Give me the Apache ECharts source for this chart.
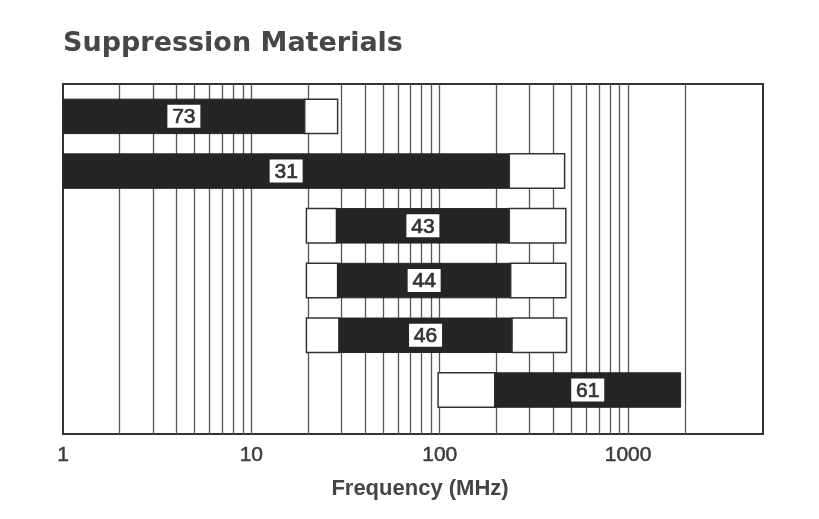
<!DOCTYPE html>
<html>
<head>
<meta charset="utf-8">
<script src="https://cdn.jsdelivr.net/npm/echarts@6/dist/echarts.min.js"></script>
<style>
html,body{margin:0;padding:0;background:#fff;}
#chart{width:819px;height:519px;}
</style>
</head>
<body>
<div id="chart"></div>
<script>
// ---- data ----
const materials = ['73', '31', '43', '44', '46', '61'];
// frequency ranges in MHz (null = no such segment)
const whiteLowStart = [null, null, 19.6, 19.6, 19.6, 98];
const blackStart    = [1, 1, 28.3, 28.7, 29.2, 196];
const blackEnd      = [19.2, 234, 234, 238, 242, 1900];
const whiteHighEnd  = [28.7, 460, 467, 467, 471, null];
const tickLabels = ['1', '10', '100', '1000'];
const gridLineValues = [2,3,4,5,6,7,8,9,10,20,30,40,50,60,70,80,90,100,
                        200,300,400,500,600,700,800,900,1000,2000];
const axisMin = 1;
const axisMax = 5200;

// ---- build segments ----
const segments = [];
materials.forEach(function (m, i) {
  if (whiteLowStart[i] != null) segments.push([whiteLowStart[i], blackStart[i], i, 0]);
  segments.push([blackStart[i], blackEnd[i], i, 1]);
  if (whiteHighEnd[i] != null) segments.push([blackEnd[i], whiteHighEnd[i], i, 0]);
});
const labelData = materials.map(function (m, i) { return [blackStart[i], blackEnd[i], i]; });

const chart = echarts.init(document.getElementById('chart'), null, {renderer: 'canvas'});

const gridLeft = 63, gridRight = 56;

const option = {
  backgroundColor: '#fff',
  animation: false,
  title: {
    text: 'Suppression Materials',
    left: 58,
    top: 25,
    textStyle: {fontFamily: 'DejaVu Sans', fontWeight: 'bold', fontSize: 27, color: '#474747'}
  },
  grid: [
    {left: gridLeft, right: gridRight, top: 84, height: 350, show: true,
     borderColor: '#333', borderWidth: 2, backgroundColor: '#fff'},
    {left: gridLeft, right: gridRight, top: 89, height: 328.4, show: false}
  ],
  xAxis: [
    {
      type: 'log', logBase: 10, min: axisMin, max: axisMax, gridIndex: 0,
      axisLine: {show: false}, axisTick: {show: false}, splitLine: {show: false},
      axisLabel: {
        show: true, margin: 11, showMaxLabel: false,
        fontFamily: 'Liberation Sans', fontSize: 21, color: '#3c3c3c',
        textBorderColor: '#3c3c3c', textBorderWidth: 0.5,
        formatter: function (v) {
          const s = String(Math.round(v));
          return tickLabels.indexOf(s) >= 0 ? s : '';
        }
      },
      name: 'Frequency (MHz)', nameLocation: 'middle', nameGap: 44,
      nameTextStyle: {fontFamily: 'Liberation Sans', fontWeight: 'bold', fontSize: 22,
                      color: '#444', padding: [0, 0, 0, 14]}
    },
    {type: 'log', logBase: 10, min: axisMin, max: axisMax, gridIndex: 1, show: false}
  ],
  yAxis: [
    {type: 'value', min: 0, max: 1, gridIndex: 0, show: false},
    {type: 'category', data: materials, inverse: true, gridIndex: 1, show: false}
  ],
  series: [
    {
      type: 'line', xAxisIndex: 0, yAxisIndex: 0, data: [], z: 1, silent: true,
      markLine: {
        silent: true, symbol: 'none', animation: false, z: 1,
        label: {show: false},
        lineStyle: {color: '#555', width: 1.3, type: 'solid'},
        data: gridLineValues.map(function (v) { return {xAxis: v}; })
      }
    },
    {
      type: 'custom', xAxisIndex: 1, yAxisIndex: 1, z: 3, silent: true,
      encode: {x: [0, 1], y: 2},
      data: segments,
      renderItem: function (params, api) {
        const s = api.coord([api.value(0), api.value(2)]);
        const e = api.coord([api.value(1), api.value(2)]);
        const h = api.size([0, 1])[1] * 0.63;
        const black = api.value(3) === 1;
        return {
          type: 'rect',
          shape: {x: s[0], y: s[1] - h / 2, width: e[0] - s[0], height: h},
          style: black ? {fill: '#252525', stroke: '#252525', lineWidth: 1}
                       : {fill: '#fff', stroke: '#333', lineWidth: 1.5}
        };
      }
    },
    {
      type: 'custom', xAxisIndex: 1, yAxisIndex: 1, z: 4, silent: true,
      encode: {x: [0, 1], y: 2},
      data: labelData,
      renderItem: function (params, api) {
        const s = api.coord([api.value(0), api.value(2)]);
        const e = api.coord([api.value(1), api.value(2)]);
        const cx = (s[0] + e[0]) / 2, cy = s[1];
        const w = 33, h = 23;
        return {
          type: 'group',
          children: [
            {type: 'rect', shape: {x: cx - w / 2, y: cy - h / 2, width: w, height: h},
             style: {fill: '#fff'}},
            {type: 'text', x: cx, y: cy + 1,
             style: {text: materials[params.dataIndex], fill: '#333',
                     stroke: '#333', lineWidth: 0.7,
                     font: '21px "Liberation Sans"', align: 'center', verticalAlign: 'middle'}}
          ]
        };
      }
    }
  ]
};
chart.setOption(option);
</script>
</body>
</html>
